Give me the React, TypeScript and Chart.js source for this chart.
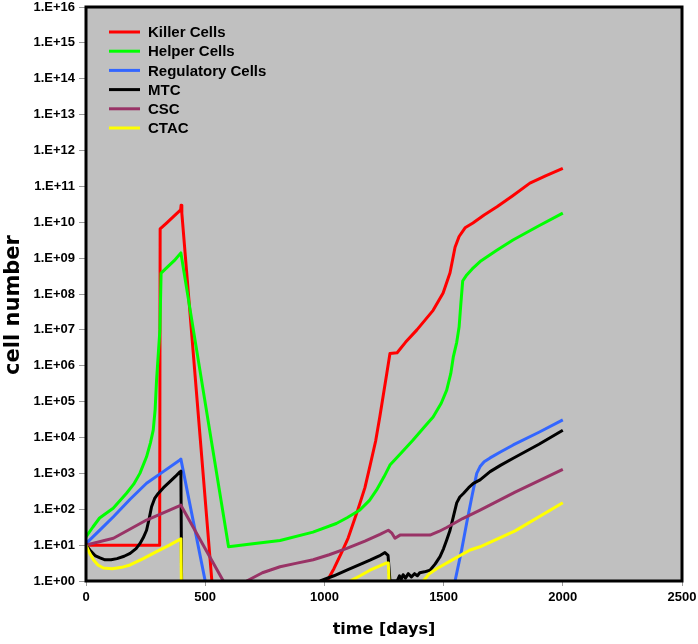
import React, { useEffect, useRef } from "react";
import { Chart, registerables } from "chart.js";

Chart.register(...registerables);

// ---- axis ticks ----
const xTickValues = [0, 500, 1000, 1500, 2000, 2500];
const yExponents = [0, 1, 2, 3, 4, 5, 6, 7, 8, 9, 10, 11, 12, 13, 14, 15, 16];

// ---- series (null value = break in the line) ----
const seriesNames = ["Killer Cells", "Helper Cells", "Regulatory Cells", "MTC", "CSC", "CTAC"];
const seriesColors = ["#FF0000", "#00FF00", "#3366FF", "#000000", "#993366", "#FFFF00"];

const killerDays = [0, 309, 311, 340, 370, 397, 399, 402, 528, 700, 1011, 1040, 1072, 1100, 1141, 1170, 1191, 1215, 1233, 1250, 1262, 1275, 1305, 1340, 1388, 1456, 1498, 1527, 1548, 1565, 1590, 1623, 1670, 1724, 1790, 1862, 1930, 2000];
const killerValues = [10, 10, 6.5e9, 9.8e9, 1.5e10, 2.2e10, 3.0e10, 1.8e10, 1, null, 1, 2.2, 6.2, 16, 100, 400, 1600, 8000, 4.0e4, 2.0e5, 6.3e5, 2.2e6, 2.3e6, 4.5e6, 1.0e7, 3.5e7, 1.07e8, 3.9e8, 2.0e9, 4.0e9, 7.0e9, 9.5e9, 1.6e10, 2.7e10, 5.5e10, 1.23e11, 2.0e11, 3.2e11];

const helperDays = [0, 29, 57, 114, 170, 200, 226, 254, 270, 282, 290, 296, 303, 310, 315, 340, 370, 398, 598, 700, 814, 952, 1050, 1095, 1149, 1190, 1219, 1250, 1275, 1320, 1372, 1420, 1456, 1490, 1513, 1530, 1541, 1555, 1565, 1572, 1580, 1597, 1620, 1653, 1720, 1791, 1900, 2000];
const helperValues = [17, 32, 57, 107, 280, 500, 1000, 2900, 7000, 1.6e4, 6e4, 4e5, 2e6, 1e7, 3.8e8, 5.5e8, 8.5e8, 1.4e9, 9, 11, 13.5, 23, 40, 58, 95, 180, 346, 800, 1700, 3600, 8500, 2.0e4, 3.7e4, 9.0e4, 2.1e5, 6.0e5, 1.8e6, 4.5e6, 1.2e7, 5.0e7, 2.3e8, 3.4e8, 5.0e8, 8e8, 1.6e9, 3.2e9, 8.0e9, 1.8e10];

const regulatoryDays = [0, 60, 115, 185, 254, 324, 394, 398, 500, 1000, 1548, 1575, 1597, 1620, 1639, 1653, 1670, 1695, 1740, 1792, 1900, 2000];
const regulatoryValues = [11, 27, 62, 190, 530, 1120, 2350, 2500, 1, null, 1, 7, 42, 250, 1000, 1550, 2100, 2700, 4000, 6200, 1.4e4, 3.1e4];

const mtcDays = [0, 17, 40, 59, 80, 105, 130, 160, 185, 210, 226, 240, 254, 265, 275, 288, 303, 325, 352, 375, 394, 398, 401, 700, 982, 1040, 1094, 1150, 1191, 1230, 1254, 1267, 1275, 1305, 1315, 1322, 1330, 1340, 1352, 1365, 1378, 1390, 1400, 1420, 1443, 1465, 1485, 1500, 1513, 1527, 1541, 1555, 1568, 1583, 1605, 1625, 1653, 1695, 1740, 1792, 1900, 2000];
const mtcValues = [10, 7.2, 5, 4.4, 3.9, 3.9, 4.2, 4.9, 5.9, 8, 11, 16, 26, 55, 117, 200, 275, 400, 590, 820, 1100, 1150, 1, null, 1, 1.4, 2, 2.9, 3.8, 5, 6.2, 5.2, 1, 1, 1.4, 1.1, 1.5, 1.2, 1.6, 1.3, 1.6, 1.4, 1.7, 1.8, 2, 3, 4.8, 8, 14, 26, 62, 150, 220, 275, 400, 525, 660, 1120, 1700, 2630, 6500, 1.6e4];

const cscDays = [0, 115, 254, 394, 398, 576, 620, 674, 740, 814, 880, 953, 1020, 1094, 1170, 1233, 1268, 1282, 1296, 1317, 1380, 1443, 1480, 1513, 1580, 1653, 1800, 2000];
const cscValues = [10, 15.5, 50, 126, 130, 1, null, 1, 1.7, 2.5, 3.1, 3.9, 5.4, 8.1, 13, 20, 26, 22, 15.5, 19, 19, 19, 24, 31, 55, 95, 300, 1300];

const ctacDays = [0, 15, 31, 50, 73, 110, 150, 185, 240, 296, 350, 394, 398, 400, 700, 1107, 1150, 1191, 1230, 1261, 1268, 1271, 1350, 1415, 1440, 1471, 1540, 1611, 1653, 1800, 2000];
const ctacValues = [10, 6, 3.9, 2.8, 2.3, 2.2, 2.4, 2.8, 4.2, 6.6, 10, 14.5, 15, 1, null, 1, 1.4, 2, 2.6, 3.2, 3.2, 1, null, 1, 1.6, 2.2, 4, 7.3, 9, 25, 152];

const seriesDays = [killerDays, helperDays, regulatoryDays, mtcDays, cscDays, ctacDays];
const seriesValues = [killerValues, helperValues, regulatoryValues, mtcValues, cscValues, ctacValues];

const xTitle = "time [days]";
const yTitle = "cell number";

const FONT = '"Liberation Sans", Arial, sans-serif';
const TITLE_FONT = '"DejaVu Sans", Verdana, sans-serif';

const framePlugin = {
  id: "frameAndLegend",
  beforeDraw(chart: any) {
    const { ctx, chartArea: a } = chart;
    ctx.save();
    ctx.fillStyle = "#C0C0C0";
    ctx.fillRect(a.left, a.top, a.right - a.left, a.bottom - a.top);
    ctx.restore();
  },
  afterDatasetsDraw(chart: any) {
    const { ctx, chartArea: a } = chart;
    ctx.save();
    ctx.strokeStyle = "#000000";
    ctx.lineWidth = 3;
    ctx.strokeRect(a.left, a.top, a.right - a.left, a.bottom - a.top);
    ctx.restore();
  },
  afterDraw(chart: any) {
    const { ctx, chartArea: a } = chart;
    ctx.save();
    ctx.font = `bold 15px ${FONT}`;
    ctx.textBaseline = "middle";
    ctx.textAlign = "left";
    seriesNames.forEach((name, i) => {
      const y = a.top + 25 + i * 19.2;
      ctx.strokeStyle = seriesColors[i];
      ctx.lineWidth = 3;
      ctx.beginPath();
      ctx.moveTo(a.left + 23, y);
      ctx.lineTo(a.left + 54, y);
      ctx.stroke();
      ctx.fillStyle = "#000000";
      ctx.fillText(name, a.left + 62, y + 1);
    });
    // y-axis title, slightly below the plot's vertical centre as in the reference
    ctx.translate(14, (a.top + a.bottom) / 2 + 11);
    ctx.rotate(-Math.PI / 2);
    ctx.font = `bold 21px ${TITLE_FONT}`;
    ctx.textAlign = "center";
    ctx.textBaseline = "middle";
    ctx.fillStyle = "#000000";
    ctx.fillText(yTitle, 0, 0);
    ctx.restore();
  },
};

export default function App() {
  const ref = useRef<HTMLCanvasElement>(null);
  useEffect(() => {
    const canvas = ref.current;
    if (!canvas) return;
    const datasets = seriesNames.map((name, i) => ({
      label: name,
      data: seriesDays[i].map((d, j) => ({ x: d, y: seriesValues[i][j] })),
      borderColor: seriesColors[i],
      backgroundColor: seriesColors[i],
      borderWidth: 3,
      pointRadius: 0,
      tension: 0,
      borderJoinStyle: "round" as const,
      spanGaps: false,
      order: -i,
    }));
    const chart = new Chart(canvas, {
      type: "line",
      data: { datasets },
      options: {
        animation: false,
        responsive: false,
        devicePixelRatio: 1,
        layout: { padding: { top: 7, right: 16, left: 0, bottom: 0 } },
        plugins: { legend: { display: false }, tooltip: { enabled: false } },
        scales: {
          x: {
            type: "linear",
            min: 0,
            max: 2500,
            afterBuildTicks: (scale: any) => {
              scale.ticks = xTickValues.map((v) => ({ value: v }));
            },
            afterFit: (scale: any) => {
              scale.height = 63;
              scale.paddingLeft = 0;
              scale.paddingRight = 0;
            },
            ticks: {
              color: "#000000",
              font: { family: FONT, size: 13, weight: "bold" },
              padding: 4,
              maxRotation: 0,
              autoSkip: false,
              callback: (v: any) => String(v),
            },
            grid: { drawOnChartArea: false, drawTicks: true, tickLength: 5, color: "#9a9a9a" },
            border: { display: false },
            title: {
              display: true,
              text: xTitle,
              color: "#000000",
              font: { family: TITLE_FONT, size: 16, weight: "bold" },
              padding: { top: 5, bottom: 5 },
            },
          },
          y: {
            type: "logarithmic",
            min: 1,
            max: 1e16,
            afterBuildTicks: (scale: any) => {
              scale.ticks = yExponents.map((e) => ({ value: Math.pow(10, e) }));
            },
            afterFit: (scale: any) => {
              scale.width = 86;
              scale.paddingTop = 0;
              scale.paddingBottom = 0;
            },
            ticks: {
              color: "#000000",
              font: { family: FONT, size: 13, weight: "bold" },
              padding: 4,
              autoSkip: false,
              callback: (v: any) => {
                const e = Math.round(Math.log10(Number(v)));
                return `1.E+${String(e).padStart(2, "0")}`;
              },
            },
            grid: { drawOnChartArea: false, drawTicks: true, tickLength: 7, color: "#9a9a9a" },
            border: { display: false },
            title: { display: false, text: yTitle },
          },
        },
      },
      plugins: [framePlugin],
    });
    return () => chart.destroy();
  }, []);
  return (
    <div style={{ position: "fixed", left: 0, top: 0, width: 698, height: 644, background: "#ffffff" }}>
      <canvas ref={ref} width={698} height={644} style={{ width: 698, height: 644, display: "block" }} />
    </div>
  );
}
